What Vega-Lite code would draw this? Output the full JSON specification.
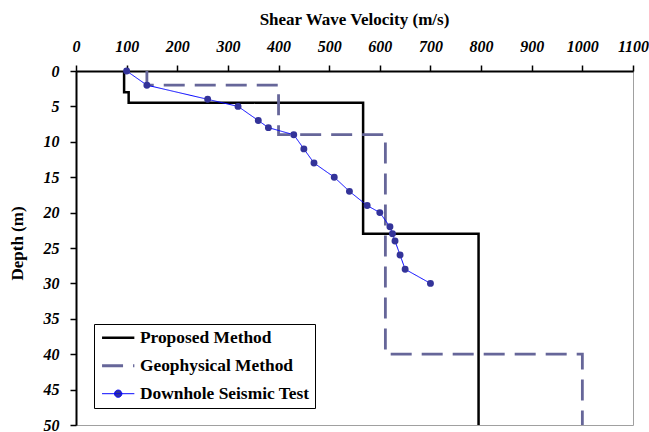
{
  "$schema": "https://vega.github.io/schema/vega-lite/v6.json",
  "width": 557,
  "height": 354,
  "autosize": {"type": "none"},
  "padding": {"left": 76, "top": 71, "right": 16, "bottom": 7},
  "background": "white",
  "config": {
    "font": "Liberation Serif",
    "view": {"stroke": "#a0a0a0", "strokeWidth": 1},
    "axis": {
      "grid": false,
      "domainColor": "black",
      "domainWidth": 2,
      "tickColor": "black",
      "tickWidth": 1.5,
      "tickSize": 6,
      "labelColor": "black",
      "titleColor": "black",
      "labelFont": "Liberation Serif",
      "labelFontSize": 16,
      "labelFontStyle": "italic",
      "labelFontWeight": "bold",
      "titleFont": "Liberation Serif",
      "titleFontSize": 17,
      "titleFontWeight": "bold"
    }
  },
  "data": {
    "values": [
      {"series": "Proposed Method", "i": 1, "v": 95, "d": 0},
      {"series": "Proposed Method", "i": 2, "v": 95, "d": 3},
      {"series": "Proposed Method", "i": 3, "v": 104, "d": 3},
      {"series": "Proposed Method", "i": 4, "v": 104, "d": 4.5},
      {"series": "Proposed Method", "i": 5, "v": 567, "d": 4.5},
      {"series": "Proposed Method", "i": 6, "v": 567, "d": 23},
      {"series": "Proposed Method", "i": 7, "v": 795, "d": 23},
      {"series": "Proposed Method", "i": 8, "v": 795, "d": 50},
      {"series": "Geophysical Method", "i": 1, "v": 140, "d": 0},
      {"series": "Geophysical Method", "i": 2, "v": 140, "d": 2},
      {"series": "Geophysical Method", "i": 3, "v": 400, "d": 2},
      {"series": "Geophysical Method", "i": 4, "v": 400, "d": 9},
      {"series": "Geophysical Method", "i": 5, "v": 611, "d": 9},
      {"series": "Geophysical Method", "i": 6, "v": 611, "d": 40},
      {"series": "Geophysical Method", "i": 7, "v": 1000, "d": 40},
      {"series": "Geophysical Method", "i": 8, "v": 1000, "d": 50},
      {"series": "Downhole Seismic Test", "i": 1, "v": 100, "d": 0},
      {"series": "Downhole Seismic Test", "i": 2, "v": 140, "d": 2},
      {"series": "Downhole Seismic Test", "i": 3, "v": 260, "d": 4},
      {"series": "Downhole Seismic Test", "i": 4, "v": 320, "d": 5},
      {"series": "Downhole Seismic Test", "i": 5, "v": 360, "d": 7},
      {"series": "Downhole Seismic Test", "i": 6, "v": 380, "d": 8},
      {"series": "Downhole Seismic Test", "i": 7, "v": 430, "d": 9},
      {"series": "Downhole Seismic Test", "i": 8, "v": 450, "d": 11},
      {"series": "Downhole Seismic Test", "i": 9, "v": 470, "d": 13},
      {"series": "Downhole Seismic Test", "i": 10, "v": 510, "d": 15},
      {"series": "Downhole Seismic Test", "i": 11, "v": 540, "d": 17},
      {"series": "Downhole Seismic Test", "i": 12, "v": 575, "d": 19},
      {"series": "Downhole Seismic Test", "i": 13, "v": 600, "d": 20},
      {"series": "Downhole Seismic Test", "i": 14, "v": 620, "d": 22},
      {"series": "Downhole Seismic Test", "i": 15, "v": 625, "d": 23},
      {"series": "Downhole Seismic Test", "i": 16, "v": 630, "d": 24},
      {"series": "Downhole Seismic Test", "i": 17, "v": 640, "d": 26},
      {"series": "Downhole Seismic Test", "i": 18, "v": 650, "d": 28},
      {"series": "Downhole Seismic Test", "i": 19, "v": 700, "d": 30}
    ]
  },
  "encoding": {
    "x": {
      "field": "v",
      "type": "quantitative",
      "scale": {"domain": [0, 1100], "nice": false, "zero": false},
      "axis": {
        "orient": "top",
        "values": [0, 100, 200, 300, 400, 500, 600, 700, 800, 900, 1000, 1100],
        "format": "d",
        "labelFlush": false,
        "labelOverlap": false,
        "labelBaseline": "alphabetic",
        "labelPadding": 14,
        "title": "Shear Wave Velocity (m/s)",
        "titleX": 278,
        "titleY": -43,
        "titleBaseline": "bottom"
      }
    },
    "y": {
      "field": "d",
      "type": "quantitative",
      "scale": {"domain": [0, 50], "reverse": true, "nice": false, "zero": false},
      "axis": {
        "values": [0, 5, 10, 15, 20, 25, 30, 35, 40, 45, 50],
        "labelPadding": 11,
        "labelOverlap": false,
        "title": "Depth (m)",
        "titleX": -50,
        "titleY": 172,
        "titleBaseline": "bottom"
      }
    }
  },
  "layer": [
    {
      "transform": [{"filter": "datum.series === 'Proposed Method'"}],
      "mark": {"type": "line", "strokeWidth": 2.5, "strokeCap": "butt", "strokeJoin": "miter"},
      "encoding": {
        "order": {"field": "i", "type": "quantitative"},
        "color": {
          "field": "series",
          "type": "nominal",
          "scale": {
            "domain": ["Proposed Method", "Geophysical Method", "Downhole Seismic Test"],
            "range": ["#000000", "#666699", "#0000FF"]
          },
          "legend": {
            "title": null,
            "orient": "none",
            "legendX": 18,
            "legendY": 253,
            "padding": 5,
            "rowPadding": 9,
            "strokeColor": "black",
            "fillColor": "white",
            "labelFont": "Liberation Serif",
            "labelFontSize": 17.4,
            "labelFontWeight": "bold",
            "labelColor": "black",
            "labelLimit": 400,
            "symbolType": "stroke",
            "symbolSize": 289,
            "symbolStrokeWidth": 2,
            "symbolOffset": 10.5,
            "labelOffset": 13,
            "encode": {
              "symbols": {
                "update": {
                  "shape": {"signal": "datum.value === 'Downhole Seismic Test' ? 'M-1.9,0L1.9,0M0.43,0A0.43,0.43 0 1 1 -0.43,0A0.43,0.43 0 1 1 0.43,0Z' : 'M-1.9,0L1.9,0'"},
                  "fill": {"signal": "datum.value === 'Downhole Seismic Test' ? '#333399' : 'transparent'"},
                  "strokeWidth": {"signal": "datum.value === 'Downhole Seismic Test' ? 1 : (datum.value === 'Geophysical Method' ? 3 : 2.5)"}
                }
              }
            }
          }
        },
        "strokeDash": {
          "field": "series",
          "type": "nominal",
          "scale": {
            "domain": ["Proposed Method", "Geophysical Method", "Downhole Seismic Test"],
            "range": [[1, 0], [21, 10], [1, 0]]
          },
          "legend": null
        }
      }
    },
    {
      "transform": [{"filter": "datum.series === 'Geophysical Method'"}],
      "mark": {"type": "line", "strokeWidth": 2.8, "strokeCap": "butt", "strokeJoin": "miter"},
      "encoding": {
        "order": {"field": "i", "type": "quantitative"},
        "color": {"field": "series", "type": "nominal"},
        "strokeDash": {"field": "series", "type": "nominal", "legend": null}
      }
    },
    {
      "transform": [{"filter": "datum.series === 'Downhole Seismic Test'"}],
      "mark": {"type": "line", "strokeWidth": 1},
      "encoding": {
        "order": {"field": "i", "type": "quantitative"},
        "color": {"field": "series", "type": "nominal"},
        "strokeDash": {"field": "series", "type": "nominal", "legend": null}
      }
    },
    {
      "transform": [{"filter": "datum.series === 'Downhole Seismic Test'"}],
      "mark": {"type": "point", "filled": true, "size": 48, "color": "#333399", "opacity": 1},
      "encoding": {}
    }
  ]
}
